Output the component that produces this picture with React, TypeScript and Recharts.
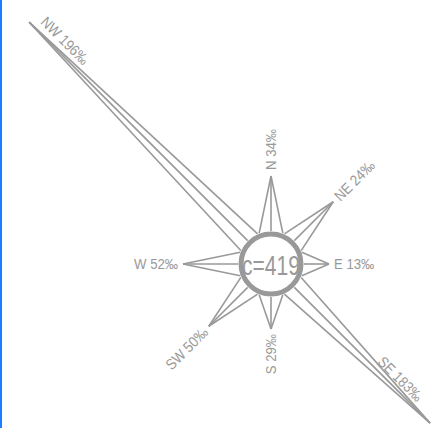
import React from 'react';
import { RadarChart, Radar, PolarAngleAxis, PolarRadiusAxis } from 'recharts';

// compass directions, clockwise from north
const directions = ['N', 'NE', 'E', 'SE', 'S', 'SW', 'W', 'NW'];
// share of observations per direction, per mille
const shares = [34, 24, 13, 183, 29, 50, 52, 196];
// drawn length of each spike (chart units)
const reach = [88, 88, 58, 225, 65, 88, 88, 342];
const total = 419;

const data = directions.map((dir, i) => ({ dir, share: shares[i], reach: reach[i] }));

const GRAY = '#999';
const FONT = '"Liberation Sans", Arial, sans-serif';

type LabelCfg = { rot: number; anchor: 'start' | 'end'; along: number; side: number; base: string };

const labelCfg: Record<string, LabelCfg> = {
  N: { rot: -90, anchor: 'start', along: 6, side: 0, base: 'central' },
  NE: { rot: -45, anchor: 'start', along: 5, side: 0, base: 'central' },
  E: { rot: 0, anchor: 'start', along: 5, side: 0, base: 'central' },
  SE: { rot: 45, anchor: 'end', along: -24, side: 5, base: 'auto' },
  S: { rot: -90, anchor: 'end', along: 5, side: 0, base: 'central' },
  SW: { rot: -45, anchor: 'end', along: 5, side: 0, base: 'central' },
  W: { rot: 0, anchor: 'end', along: 5, side: 0, base: 'central' },
  NW: { rot: 45, anchor: 'start', along: -8, side: -7, base: 'auto' },
};

const Rose = (props: any) => {
  const pts = props.points || [];
  if (!pts.length) return null;
  const { cx, cy } = pts[0];
  const rad = Math.PI / 180;
  const at = (a: number, r: number) => [cx + r * Math.cos(-a * rad), cy + r * Math.sin(-a * rad)];
  const baseR = 33;
  const spread = 21;

  return (
    <g>
      {pts.map((p: any) => {
        const a = p.angle;
        const [lx, ly] = at(a - spread, baseR);
        const [rx, ry] = at(a + spread, baseR);
        const [mx, my] = at(a, baseR);
        return (
          <g key={p.payload.dir} stroke={GRAY} strokeWidth={1.6} fill="none">
            <line x1={lx} y1={ly} x2={p.x} y2={p.y} />
            <line x1={rx} y1={ry} x2={p.x} y2={p.y} />
            <line x1={mx} y1={my} x2={p.x} y2={p.y} />
          </g>
        );
      })}
      <circle cx={cx} cy={cy} r={30} fill="#fff" stroke={GRAY} strokeWidth={5} />
      <g transform={`translate(${cx} ${cy + 1}) scale(0.75 1)`}>
        <text x={0} y={0} textAnchor="middle" dominantBaseline="central" fill={GRAY} fontSize={28} fontFamily={FONT}>
          {`c=${total}`}
        </text>
      </g>
      {pts.map((p: any) => {
        const d = p.payload.dir;
        const cfg = labelCfg[d];
        const ux = Math.cos(-p.angle * rad);
        const uy = Math.sin(-p.angle * rad);
        const tx = p.x + ux * cfg.along + uy * cfg.side;
        const ty = p.y + uy * cfg.along - ux * cfg.side;
        return (
          <g key={'l' + d} transform={`translate(${tx} ${ty}) rotate(${cfg.rot}) scale(0.88 1)`}>
            <text
              x={0}
              y={0}
              textAnchor={cfg.anchor}
              dominantBaseline={cfg.base}
              fill={GRAY}
              fontSize={15}
              fontFamily={FONT}
            >
              {`${d} ${p.payload.share}‰`}
            </text>
          </g>
        );
      })}
    </g>
  );
};

export default function App() {
  return (
    <div style={{ position: 'fixed', left: 0, top: 0, width: 439, height: 428, background: '#fff' }}>
      <div style={{ position: 'absolute', left: 0, top: 0, width: 2, height: 428, background: '#1a7fff' }} />
      <RadarChart
        width={439}
        height={428}
        data={data}
        cx={271}
        cy={264}
        outerRadius={342}
        margin={{ top: 0, right: 0, bottom: 0, left: 0 }}
      >
        <PolarAngleAxis dataKey="dir" tick={false} axisLine={false} />
        <PolarRadiusAxis domain={[0, 342]} tick={false} axisLine={false} />
        <Radar dataKey="reach" shape={Rose} isAnimationActive={false} />
      </RadarChart>
    </div>
  );
}
